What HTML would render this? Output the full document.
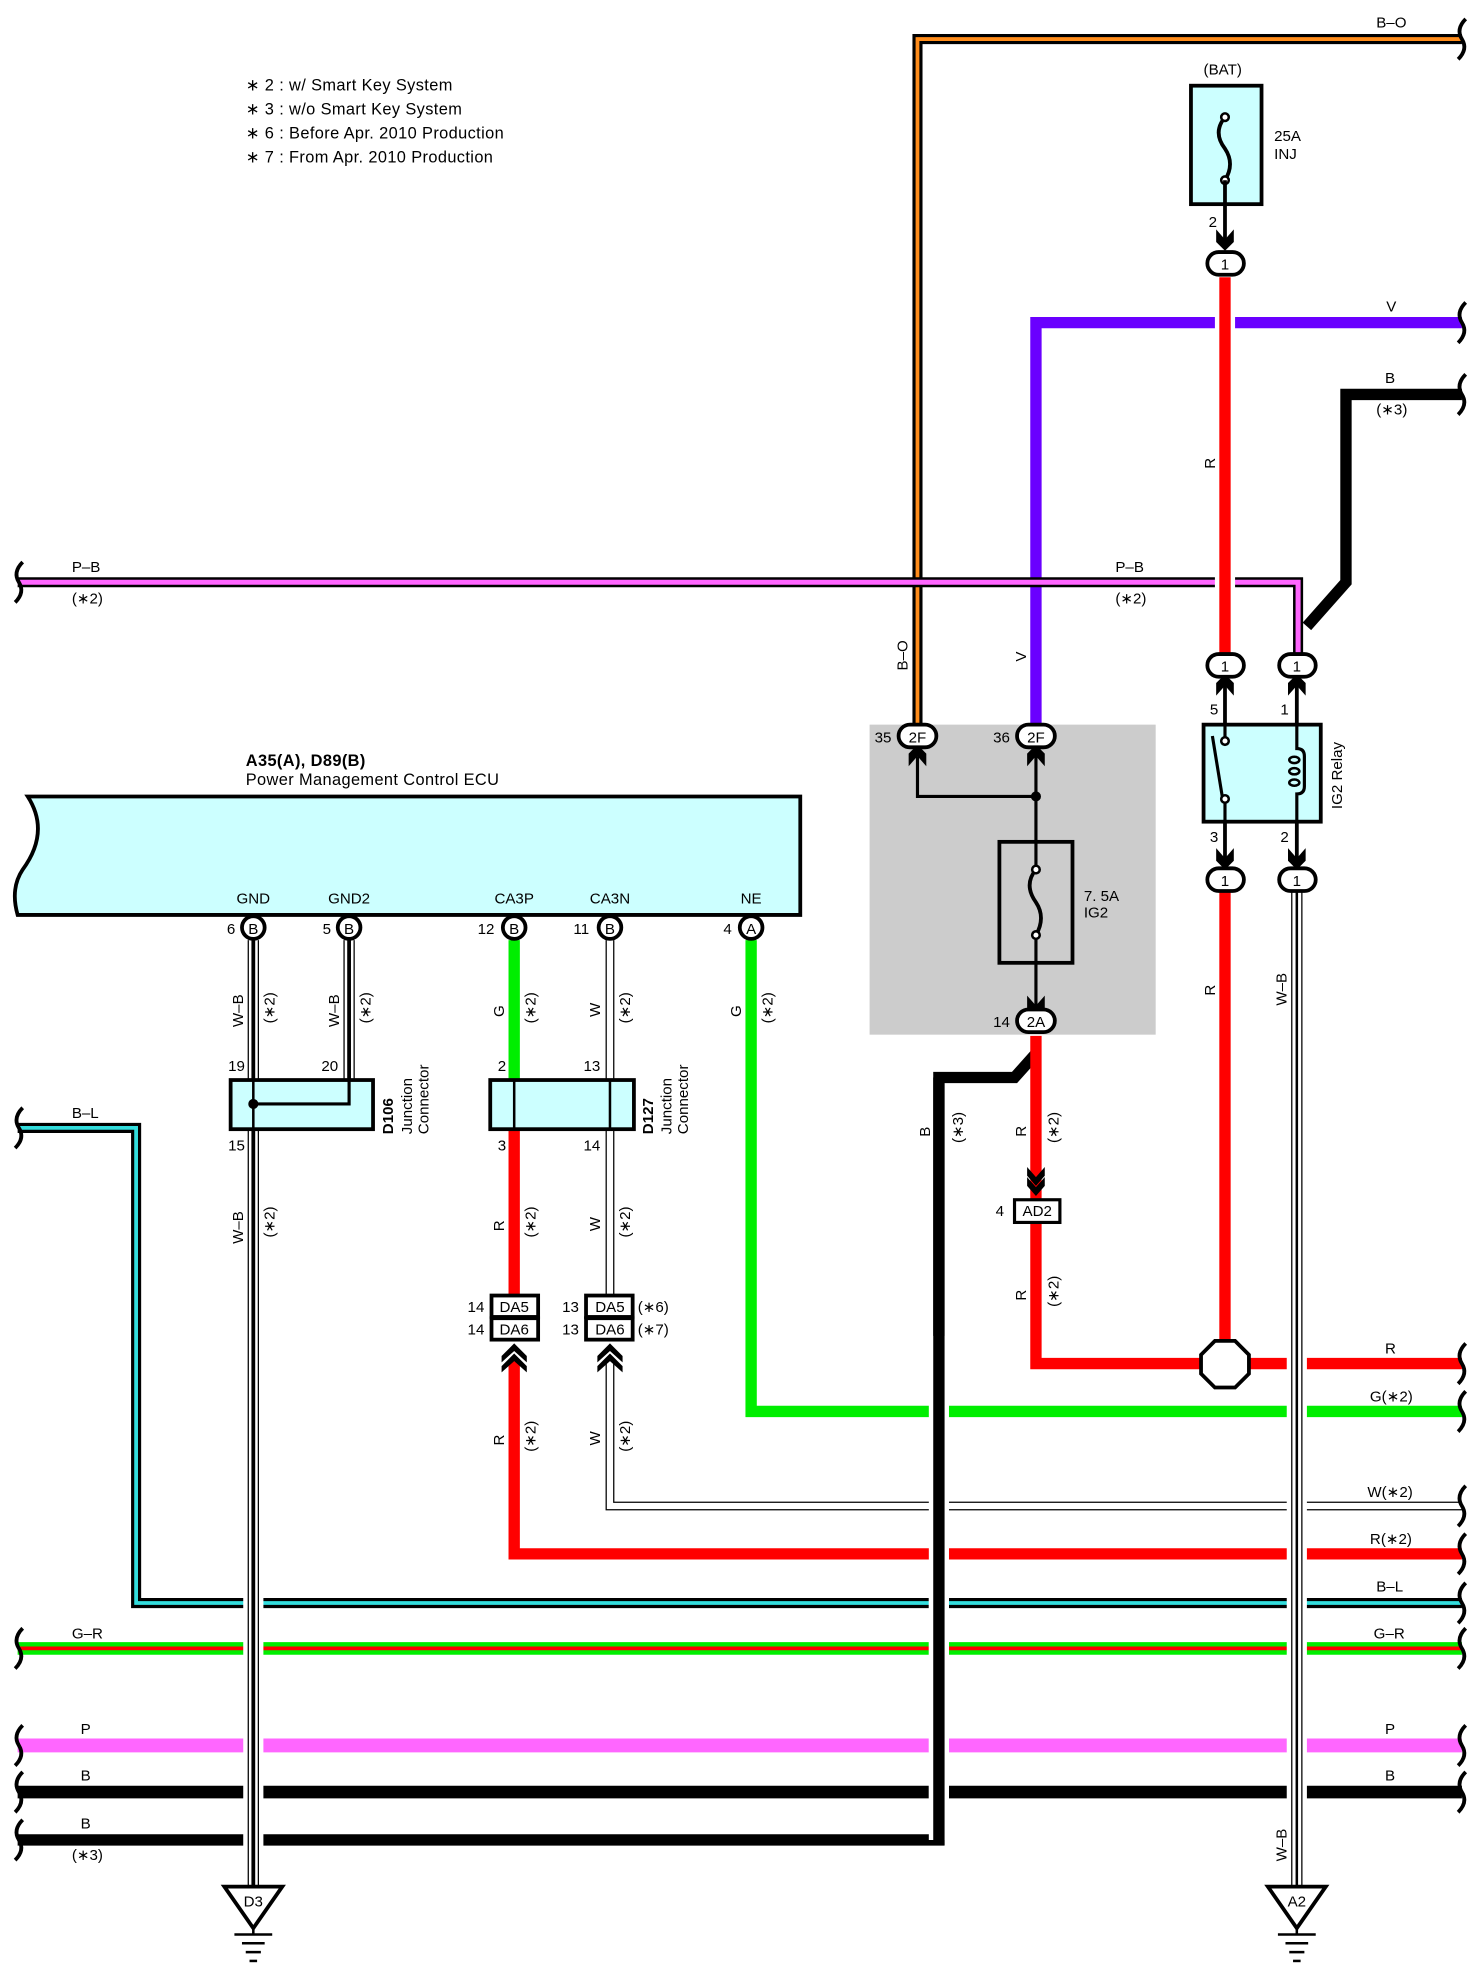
<!DOCTYPE html>
<html><head><meta charset="utf-8">
<style>
html,body{margin:0;padding:0;background:#fff;}
svg{display:block;}
text{font-family:"Liberation Sans",sans-serif;font-size:12px;fill:#000;}
.n{font-size:13px;letter-spacing:0.3px;}
</style></head><body>
<svg width="1472" height="1968" viewBox="0 0 1168 1561.6" preserveAspectRatio="none" xmlns="http://www.w3.org/2000/svg">
<rect width="1168" height="1562" fill="#fff"/>
<!-- notes -->
<text class="n" x="195" y="72">∗ 2 : w/ Smart Key System</text>
<text class="n" x="195" y="91">∗ 3 : w/o Smart Key System</text>
<text class="n" x="195" y="110">∗ 6 : Before Apr.  2010 Production</text>
<text class="n" x="195" y="129">∗ 7 : From Apr.  2010 Production</text>

<!-- gray junction box -->
<rect x="690" y="575" width="227" height="246" fill="#cccccc"/>

<!-- B-O -->
<path d="M1160 31 H728 V576" fill="none" stroke="#000" stroke-width="8"/>
<path d="M1160 31 H728 V576" fill="none" stroke="#ff8c1a" stroke-width="3"/>
<text x="1092" y="22">B–O</text>
<!-- V -->
<path d="M1160 256 H822 V576" fill="none" stroke="#6a00ff" stroke-width="9"/>
<text x="1100" y="247">V</text>
<!-- B (*3) top -->
<path d="M1160 313 H1068 V462 L1037 497" fill="none" stroke="#000" stroke-width="9"/>
<text x="1099" y="304">B</text><text x="1092" y="329">(∗3)</text>
<!-- P-B -->
<path d="M14 462 H1030 V520" fill="none" stroke="#000" stroke-width="8"/>
<path d="M14 462 H1030 V520" fill="none" stroke="#ff66ff" stroke-width="4"/>
<text x="57" y="454">P–B</text><text x="57" y="479">(∗2)</text>
<text x="885" y="454">P–B</text><text x="885" y="479">(∗2)</text>
<!-- B-L -->
<path d="M14 895 H108 V1272 H1160" fill="none" stroke="#000" stroke-width="8"/>
<path d="M14 895 H108 V1272 H1160" fill="none" stroke="#33dddd" stroke-width="3"/>
<text x="57" y="887">B–L</text><text x="1092" y="1263">B–L</text>
<!-- G-R -->
<line x1="14" y1="1308" x2="1160" y2="1308" stroke="#00ee00" stroke-width="10"/>
<line x1="14" y1="1308" x2="1160" y2="1308" stroke="#ff0000" stroke-width="3"/>
<text x="57" y="1300">G–R</text><text x="1090" y="1300">G–R</text>
<!-- P -->
<line x1="14" y1="1385" x2="1160" y2="1385" stroke="#ff66ff" stroke-width="11"/>
<text x="64" y="1376">P</text><text x="1099" y="1376">P</text>
<!-- B -->
<line x1="14" y1="1422" x2="1160" y2="1422" stroke="#000" stroke-width="10"/>
<text x="64" y="1413">B</text><text x="1099" y="1413">B</text>
<!-- B(*3) bottom + vertical -->
<path d="M14 1460 H745 V855 H805 L822 836" fill="none" stroke="#fff" stroke-width="16"/>
<path d="M14 1460 H745 V855 H805 L822 836" fill="none" stroke="#000" stroke-width="9"/>
<text x="64" y="1451">B</text><text x="57" y="1476">(∗3)</text>
<!-- NE green -->
<path d="M596 746 V1120 H1160" fill="none" stroke="#00ee00" stroke-width="9"/>
<text x="1087" y="1112">G(∗2)</text>
<!-- CA3N W lower -->
<path d="M484 1080 V1195 H1160" fill="none" stroke="#000" stroke-width="7"/>
<path d="M484 1080 V1195 H1160" fill="none" stroke="#fff" stroke-width="5"/>
<text x="1085" y="1188">W(∗2)</text>
<!-- CA3P R lower -->
<path d="M408 1080 V1233 H1160" fill="none" stroke="#ff0000" stroke-width="9"/>
<text x="1087" y="1225">R(∗2)</text>
<!-- R to octagon -->
<path d="M822 822 V1082 H1160" fill="none" stroke="#ff0000" stroke-width="9"/>
<text x="1099" y="1074">R</text>
<line x1="745" y1="1060" x2="745" y2="1460" stroke="#fff" stroke-width="16"/>
<line x1="745" y1="855" x2="745" y2="1464" stroke="#000" stroke-width="9"/>

<!-- red vertical main -->
<line x1="972" y1="220" x2="972" y2="520" stroke="#fff" stroke-width="16"/>
<line x1="972" y1="220" x2="972" y2="520" stroke="#ff0000" stroke-width="9"/>
<line x1="972" y1="706" x2="972" y2="1070" stroke="#ff0000" stroke-width="9"/>
<text transform="translate(964 372) rotate(-90)">R</text>
<text transform="translate(964 790) rotate(-90)">R</text>

<!-- W-B verticals -->
<g>
<line x1="1029" y1="706" x2="1029" y2="1497" stroke="#fff" stroke-width="16"/>
<line x1="1029" y1="706" x2="1029" y2="1497" stroke="#000" stroke-width="9"/>
<line x1="1029" y1="706" x2="1029" y2="1497" stroke="#fff" stroke-width="7"/>
<line x1="1029" y1="706" x2="1029" y2="1497" stroke="#000" stroke-width="2"/>
<line x1="201" y1="746" x2="201" y2="1497" stroke="#fff" stroke-width="16"/>
<line x1="201" y1="746" x2="201" y2="1497" stroke="#000" stroke-width="9"/>
<line x1="201" y1="746" x2="201" y2="1497" stroke="#fff" stroke-width="7"/>
<line x1="201" y1="746" x2="201" y2="1497" stroke="#000" stroke-width="3"/>
<line x1="277" y1="746" x2="277" y2="876" stroke="#000" stroke-width="9"/>
<line x1="277" y1="746" x2="277" y2="876" stroke="#fff" stroke-width="7"/>
<line x1="277" y1="746" x2="277" y2="876" stroke="#000" stroke-width="3"/>
</g>
<text transform="translate(1021 798) rotate(-90)">W–B</text>
<text transform="translate(1021 1477) rotate(-90)">W–B</text>
<text transform="translate(193 815) rotate(-90)">W–B</text>
<text transform="translate(218 812) rotate(-90)">(∗2)</text>
<text transform="translate(269 815) rotate(-90)">W–B</text>
<text transform="translate(294 812) rotate(-90)">(∗2)</text>
<text transform="translate(193 987) rotate(-90)">W–B</text>
<text transform="translate(218 982) rotate(-90)">(∗2)</text>

<line x1="408" y1="746" x2="408" y2="857" stroke="#00ee00" stroke-width="9"/>
<line x1="408" y1="896" x2="408" y2="1028" stroke="#ff0000" stroke-width="9"/>
<text transform="translate(400 807) rotate(-90)">G</text>
<text transform="translate(425 812) rotate(-90)">(∗2)</text>
<text transform="translate(400 977) rotate(-90)">R</text>
<text transform="translate(425 982) rotate(-90)">(∗2)</text>
<text transform="translate(400 1147) rotate(-90)">R</text>
<text transform="translate(425 1152) rotate(-90)">(∗2)</text>
<line x1="484" y1="746" x2="484" y2="1028" stroke="#000" stroke-width="7"/>
<line x1="484" y1="746" x2="484" y2="1028" stroke="#fff" stroke-width="5"/>
<text transform="translate(476 807) rotate(-90)">W</text>
<text transform="translate(500 812) rotate(-90)">(∗2)</text>
<text transform="translate(476 977) rotate(-90)">W</text>
<text transform="translate(500 982) rotate(-90)">(∗2)</text>
<text transform="translate(476 1147) rotate(-90)">W</text>
<text transform="translate(500 1152) rotate(-90)">(∗2)</text>
<text transform="translate(588 807) rotate(-90)">G</text>
<text transform="translate(613 812) rotate(-90)">(∗2)</text>

<text transform="translate(720 532) rotate(-90)">B–O</text>
<text transform="translate(814 525) rotate(-90)">V</text>
<text transform="translate(738 902) rotate(-90)">B</text>
<text transform="translate(764 907) rotate(-90)">(∗3)</text>
<text transform="translate(814 902) rotate(-90)">R</text>
<text transform="translate(840 907) rotate(-90)">(∗2)</text>
<text transform="translate(814 1032) rotate(-90)">R</text>
<text transform="translate(840 1037) rotate(-90)">(∗2)</text>

<polygon points="964,1064 980,1064 991,1075 991,1090 980,1101 964,1101 953,1090 953,1075" fill="#fff" stroke="#000" stroke-width="3"/>

<g fill="none" stroke="#000" stroke-width="3">
<path d="M18 446 q-8 8 -3 16 q5 8 -3 16"/>
<path d="M18 879 q-8 8 -3 16 q5 8 -3 16"/>
<path d="M18 1292 q-8 8 -3 16 q5 8 -3 16"/>
<path d="M18 1369 q-8 8 -3 16 q5 8 -3 16"/>
<path d="M18 1406 q-8 8 -3 16 q5 8 -3 16"/>
<path d="M18 1444 q-8 8 -3 16 q5 8 -3 16"/>
<path d="M1163 15 q-8 8 -3 16 q5 8 -3 16"/>
<path d="M1163 240 q-8 8 -3 16 q5 8 -3 16"/>
<path d="M1163 297 q-8 8 -3 16 q5 8 -3 16"/>
<path d="M1163 1066 q-8 8 -3 16 q5 8 -3 16"/>
<path d="M1163 1104 q-8 8 -3 16 q5 8 -3 16"/>
<path d="M1163 1179 q-8 8 -3 16 q5 8 -3 16"/>
<path d="M1163 1217 q-8 8 -3 16 q5 8 -3 16"/>
<path d="M1163 1256 q-8 8 -3 16 q5 8 -3 16"/>
<path d="M1163 1292 q-8 8 -3 16 q5 8 -3 16"/>
<path d="M1163 1369 q-8 8 -3 16 q5 8 -3 16"/>
<path d="M1163 1406 q-8 8 -3 16 q5 8 -3 16"/>
</g>

<text x="955" y="59">(BAT)</text>
<rect x="945" y="68" width="56" height="94" fill="#ccffff" stroke="#000" stroke-width="3"/>
<path d="M972 93 q-10 12 0 25 q8 12 0 25" fill="none" stroke="#000" stroke-width="3"/>
<circle cx="972" cy="93" r="3" fill="#fff" stroke="#000" stroke-width="2"/>
<circle cx="972" cy="143" r="3" fill="#fff" stroke="#000" stroke-width="2"/>
<line x1="972" y1="143" x2="972" y2="195" stroke="#000" stroke-width="3"/>
<polygon points="965,182 972,190 979,182 979,192 972,199 965,192" fill="#000"/>
<text x="1011" y="112">25A</text><text x="1011" y="126">INJ</text>
<text x="959" y="180">2</text>

<path d="M728 600 V632 H822 V668 M822 764 V800" fill="none" stroke="#000" stroke-width="2.5"/>
<line x1="822" y1="596" x2="822" y2="632" stroke="#000" stroke-width="2.5"/>
<circle cx="822" cy="632" r="4" fill="#000"/>
<rect x="793" y="668" width="58" height="96" fill="none" stroke="#000" stroke-width="3"/>
<line x1="822" y1="668" x2="822" y2="690" stroke="#000" stroke-width="2.5"/>
<line x1="822" y1="742" x2="822" y2="764" stroke="#000" stroke-width="2.5"/>
<path d="M822 690 q-10 12 0 26 q8 12 0 26" fill="none" stroke="#000" stroke-width="3"/>
<circle cx="822" cy="690" r="3" fill="#fff" stroke="#000" stroke-width="2"/>
<circle cx="822" cy="742" r="3" fill="#fff" stroke="#000" stroke-width="2"/>
<text x="860" y="715">7. 5A</text><text x="860" y="728">IG2</text>
<polygon points="721,608 728,600 735,608 735,598 728,591 721,598" fill="#000"/>
<polygon points="815,608 822,600 829,608 829,598 822,591 815,598" fill="#000"/>
<polygon points="815,790 822,798 829,790 829,800 822,806 815,800" fill="#000"/>

<line x1="972" y1="536" x2="972" y2="575" stroke="#000" stroke-width="3"/>
<line x1="1029" y1="536" x2="1029" y2="575" stroke="#000" stroke-width="3"/>
<line x1="972" y1="652" x2="972" y2="690" stroke="#000" stroke-width="3"/>
<line x1="1029" y1="652" x2="1029" y2="690" stroke="#000" stroke-width="3"/>
<polygon points="965,552 972,544 979,552 979,542 972,535 965,542" fill="#000"/>
<polygon points="1022,552 1029,544 1036,552 1036,542 1029,535 1022,542" fill="#000"/>
<polygon points="965,673 972,681 979,673 979,683 972,690 965,683" fill="#000"/>
<polygon points="1022,673 1029,681 1036,673 1036,683 1029,690 1022,683" fill="#000"/>
<rect x="955" y="575" width="93" height="77" fill="#ccffff" stroke="#000" stroke-width="3"/>
<line x1="972" y1="575" x2="972" y2="585" stroke="#000" stroke-width="2.5"/>
<line x1="972" y1="637" x2="972" y2="652" stroke="#000" stroke-width="2.5"/>
<line x1="962" y1="584" x2="970" y2="633" stroke="#000" stroke-width="2.5"/>
<circle cx="972" cy="588" r="3" fill="#fff" stroke="#000" stroke-width="2"/>
<circle cx="972" cy="634" r="3" fill="#fff" stroke="#000" stroke-width="2"/>
<path d="M1029 575 V594 q6 0 6 6 V624 q0 6 -6 6 V652" fill="none" stroke="#000" stroke-width="2.5"/>
<ellipse cx="1027" cy="603" rx="4" ry="2.5" fill="none" stroke="#000" stroke-width="2"/>
<ellipse cx="1027" cy="612" rx="4" ry="2.5" fill="none" stroke="#000" stroke-width="2"/>
<ellipse cx="1027" cy="621" rx="4" ry="2.5" fill="none" stroke="#000" stroke-width="2"/>
<text transform="translate(1065 642) rotate(-90)">IG2 Relay</text>
<text x="960" y="567">5</text><text x="1016" y="567">1</text>
<text x="960" y="668">3</text><text x="1016" y="668">2</text>

<g fill="#fff" stroke="#000" stroke-width="3">
<rect x="958" y="200" width="29" height="18" rx="9"/>
<rect x="958" y="519" width="29" height="18" rx="9"/>
<rect x="1015" y="519" width="29" height="18" rx="9"/>
<rect x="958" y="689" width="29" height="18" rx="9"/>
<rect x="1015" y="689" width="29" height="18" rx="9"/>
<rect x="713" y="575" width="30" height="18" rx="9"/>
<rect x="807" y="575" width="30" height="18" rx="9"/>
<rect x="807" y="801" width="30" height="18" rx="9"/>
</g>
<text x="972" y="214" text-anchor="middle">1</text>
<text x="972" y="533" text-anchor="middle">1</text>
<text x="1029" y="533" text-anchor="middle">1</text>
<text x="972" y="703" text-anchor="middle">1</text>
<text x="1029" y="703" text-anchor="middle">1</text>
<text x="728" y="589" text-anchor="middle">2F</text>
<text x="822" y="589" text-anchor="middle">2F</text>
<text x="822" y="815" text-anchor="middle">2A</text>
<text x="694" y="589">35</text><text x="788" y="589">36</text><text x="788" y="815">14</text>

<polygon points="815,934 822,942 829,934 829,941 822,949 815,941" fill="#000"/>
<polygon points="815,926 822,934 829,926 829,933 822,941 815,933" fill="#000"/>
<rect x="805" y="952" width="36" height="18" fill="#fff" stroke="#000" stroke-width="2.5"/>
<text x="823" y="965" text-anchor="middle">AD2</text>
<text x="790" y="965">4</text>

<text class="n" x="195" y="608" font-weight="bold">A35(A), D89(B)</text>
<text class="n" x="195" y="623">Power Management Control ECU</text>
<path d="M22 632 H635 V726 H14 Q8 705 18 690 Q40 660 22 632 Z" fill="#ccffff" stroke="#000" stroke-width="3"/>
<text x="201" y="717" text-anchor="middle">GND</text>
<text x="277" y="717" text-anchor="middle">GND2</text>
<text x="408" y="717" text-anchor="middle">CA3P</text>
<text x="484" y="717" text-anchor="middle">CA3N</text>
<text x="596" y="717" text-anchor="middle">NE</text>
<g fill="#fff" stroke="#000" stroke-width="3">
<circle cx="201" cy="736" r="9"/><circle cx="277" cy="736" r="9"/>
<circle cx="408" cy="736" r="9"/><circle cx="484" cy="736" r="9"/>
<circle cx="596" cy="736" r="9"/>
</g>
<text x="201" y="741" text-anchor="middle">B</text><text x="277" y="741" text-anchor="middle">B</text>
<text x="408" y="741" text-anchor="middle">B</text><text x="484" y="741" text-anchor="middle">B</text>
<text x="596" y="741" text-anchor="middle">A</text>
<text x="180" y="741">6</text><text x="256" y="741">5</text><text x="379" y="741">12</text><text x="455" y="741">11</text><text x="574" y="741">4</text>

<rect x="183" y="857" width="113" height="39" fill="#ccffff" stroke="#000" stroke-width="3"/>
<line x1="201" y1="857" x2="201" y2="896" stroke="#000" stroke-width="2"/>
<path d="M277 857 V876 H201" fill="none" stroke="#000" stroke-width="2.5"/>
<circle cx="201" cy="876" r="4" fill="#000"/>
<text x="181" y="850">19</text><text x="255" y="850">20</text><text x="181" y="913">15</text>
<text transform="translate(312 900) rotate(-90)" font-weight="bold">D106</text>
<text transform="translate(327 900) rotate(-90)">Junction</text>
<text transform="translate(340 900) rotate(-90)">Connector</text>

<rect x="389" y="857" width="114" height="39" fill="#ccffff" stroke="#000" stroke-width="3"/>
<line x1="408" y1="857" x2="408" y2="896" stroke="#000" stroke-width="2"/>
<line x1="484" y1="857" x2="484" y2="896" stroke="#000" stroke-width="2"/>
<text x="395" y="850">2</text><text x="463" y="850">13</text><text x="395" y="913">3</text><text x="463" y="913">14</text>
<text transform="translate(518 900) rotate(-90)" font-weight="bold">D127</text>
<text transform="translate(533 900) rotate(-90)">Junction</text>
<text transform="translate(546 900) rotate(-90)">Connector</text>

<g fill="#fff" stroke="#000" stroke-width="3">
<rect x="390" y="1028" width="37" height="17"/><rect x="390" y="1046" width="37" height="17"/>
<rect x="465" y="1028" width="37" height="17"/><rect x="465" y="1046" width="37" height="17"/>
</g>
<text x="408" y="1041" text-anchor="middle">DA5</text><text x="408" y="1059" text-anchor="middle">DA6</text>
<text x="484" y="1041" text-anchor="middle">DA5</text><text x="484" y="1059" text-anchor="middle">DA6</text>
<text x="371" y="1041">14</text><text x="371" y="1059">14</text>
<text x="446" y="1041">13</text><text x="446" y="1059">13</text>
<text x="506" y="1041">(∗6)</text><text x="506" y="1059">(∗7)</text>
<g fill="#000">
<polygon points="398,1076 408,1066 418,1076 418,1081 408,1072 398,1081"/>
<polygon points="398,1084 408,1074 418,1084 418,1089 408,1080 398,1089"/>
<polygon points="474,1076 484,1066 494,1076 494,1081 484,1072 474,1081"/>
<polygon points="474,1084 484,1074 494,1084 494,1089 484,1080 474,1089"/>
</g>

<g fill="#fff" stroke="#000" stroke-width="3">
<polygon points="178,1497 224,1497 201,1530"/>
<polygon points="1006,1497 1052,1497 1029,1530"/>
</g>
<text x="201" y="1513" text-anchor="middle">D3</text>
<text x="1029" y="1513" text-anchor="middle">A2</text>
<g stroke="#000" stroke-width="2">
<line x1="201" y1="1530" x2="201" y2="1535"/><line x1="186" y1="1535" x2="216" y2="1535"/>
<line x1="192" y1="1542" x2="210" y2="1542"/><line x1="195" y1="1549" x2="207" y2="1549"/><line x1="198" y1="1556" x2="204" y2="1556"/>
<line x1="1029" y1="1530" x2="1029" y2="1535"/><line x1="1014" y1="1535" x2="1044" y2="1535"/>
<line x1="1020" y1="1542" x2="1038" y2="1542"/><line x1="1023" y1="1549" x2="1035" y2="1549"/><line x1="1026" y1="1556" x2="1032" y2="1556"/>
</g>
</svg>
</body></html>
